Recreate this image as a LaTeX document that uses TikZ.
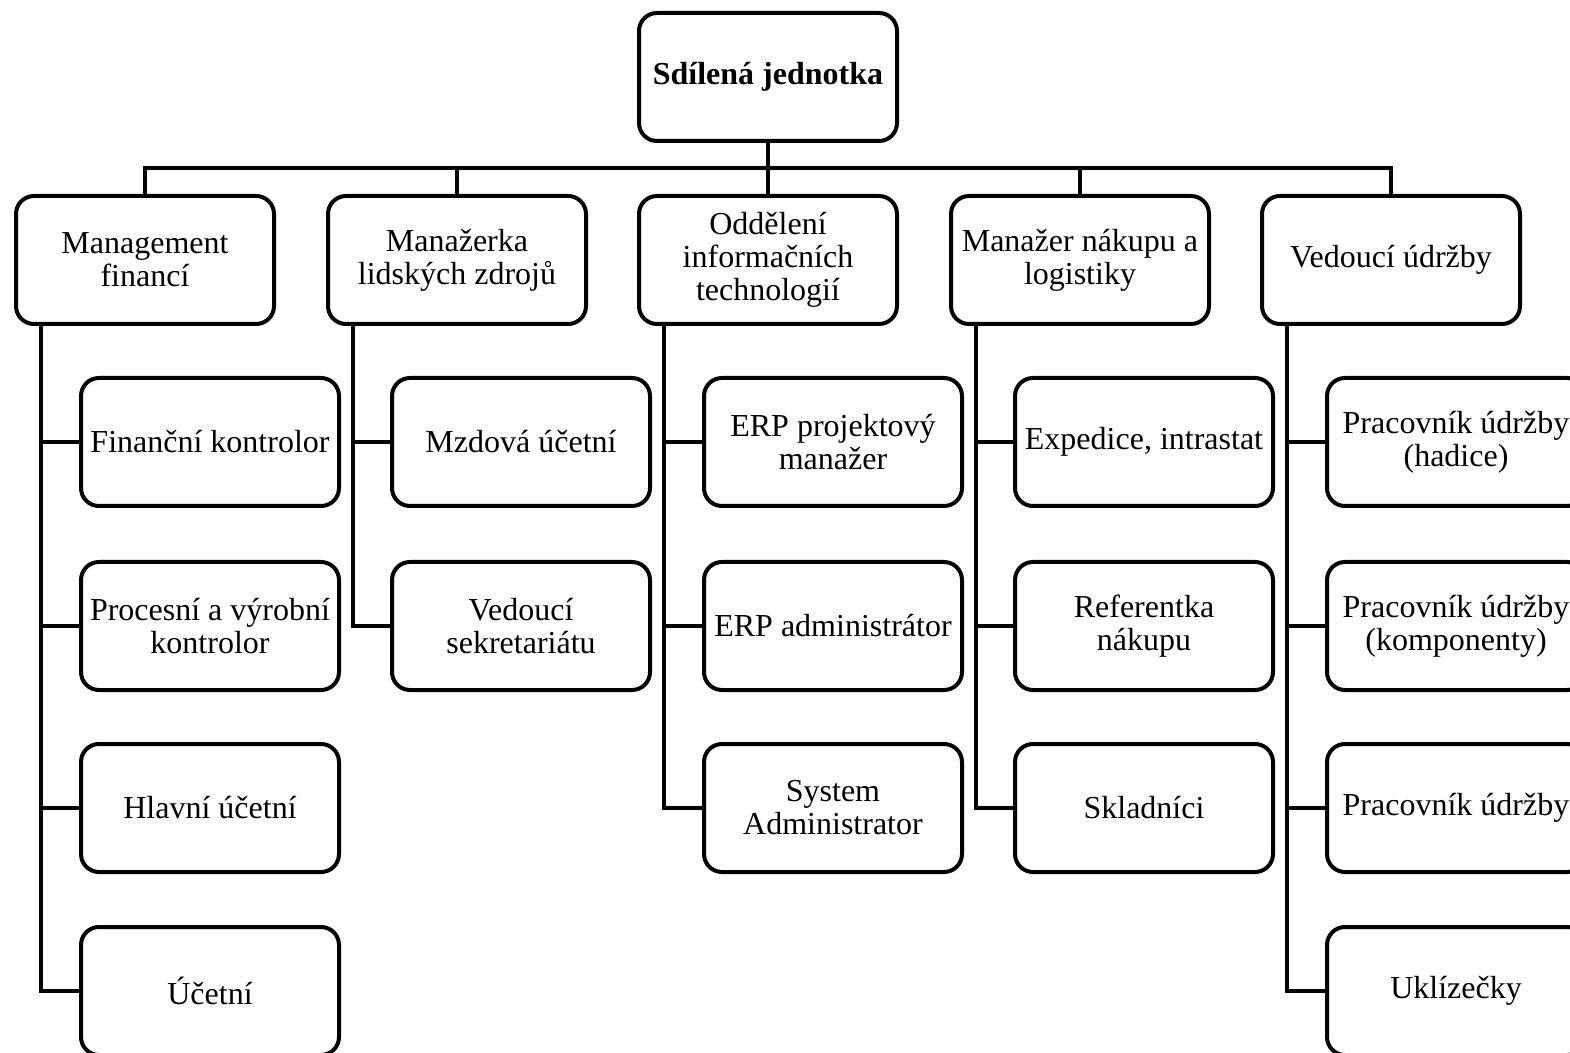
\documentclass[tikz,border=0pt]{standalone}
\usepackage{fontspec}
\setmainfont{Liberation Serif}
\tikzset{
    unit/.style={draw, line width=2pt, rounded corners=9pt, align=center,
        minimum width=129pt, minimum height=64pt, inner sep=2pt,
        font=\fontsize{16}{16.5}\selectfont},
    link/.style={line width=2pt}
}
\begin{document}
\begin{tikzpicture}[x=0.5pt, y=-0.5pt]
    \useasboundingbox (0,0) rectangle (1570,1053);
    \clip (0,0) rectangle (1570,1053);

    \node[unit, font=\fontsize{16}{16.5}\selectfont\bfseries] (top) at (768,77) {Sdílená jednotka};
    \coordinate (bus) at (768,168);

    \node[unit] (mf) at (145,260) {Management\\financí};
    \node[unit] (hr) at (457,260) {Manažerka\\lidských zdrojů};
    \node[unit] (it) at (768,260) {Oddělení\\informačních\\technologií};
    \node[unit] (nl) at (1080,260) {Manažer nákupu a\\logistiky};
    \node[unit] (ud) at (1391,260) {Vedoucí údržby};

    \node[unit] (mf1) at (210,442) {Finanční kontrolor};
    \node[unit] (mf2) at (210,626) {Procesní a výrobní\\kontrolor};
    \node[unit] (mf3) at (210,808) {Hlavní účetní};
    \node[unit] (mf4) at (210,991) {Účetní};

    \node[unit] (hr1) at (521,442) {Mzdová účetní};
    \node[unit] (hr2) at (521,626) {Vedoucí\\sekretariátu};

    \node[unit] (it1) at (833,442) {ERP projektový\\manažer};
    \node[unit] (it2) at (833,626) {ERP administrátor};
    \node[unit] (it3) at (833,808) {System\\Administrator};

    \node[unit] (nl1) at (1144,442) {Expedice, intrastat};
    \node[unit] (nl2) at (1144,626) {Referentka\\nákupu};
    \node[unit] (nl3) at (1144,808) {Skladníci};

    \node[unit] (ud1) at (1456,442) {Pracovník údržby\\(hadice)};
    \node[unit] (ud2) at (1456,626) {Pracovník údržby\\(komponenty)};
    \node[unit] (ud3) at (1456,808) {Pracovník údržby};
    \node[unit] (ud4) at (1456,991) {Uklízečky};

    % top level
    \draw[link] (top.south) -- (bus);
    \foreach \n in {mf,hr,it,nl,ud}
        \draw[link] (\n.north) |- (bus);

    % branches
    \foreach \p/\list in {mf/{1,2,3,4}, hr/{1,2}, it/{1,2,3}, nl/{1,2,3}, ud/{1,2,3,4}}
        \foreach \c in \list
            \draw[link] ([xshift=13.5pt]\p.south west) |- (\p\c.west);
\end{tikzpicture}
\end{document}
